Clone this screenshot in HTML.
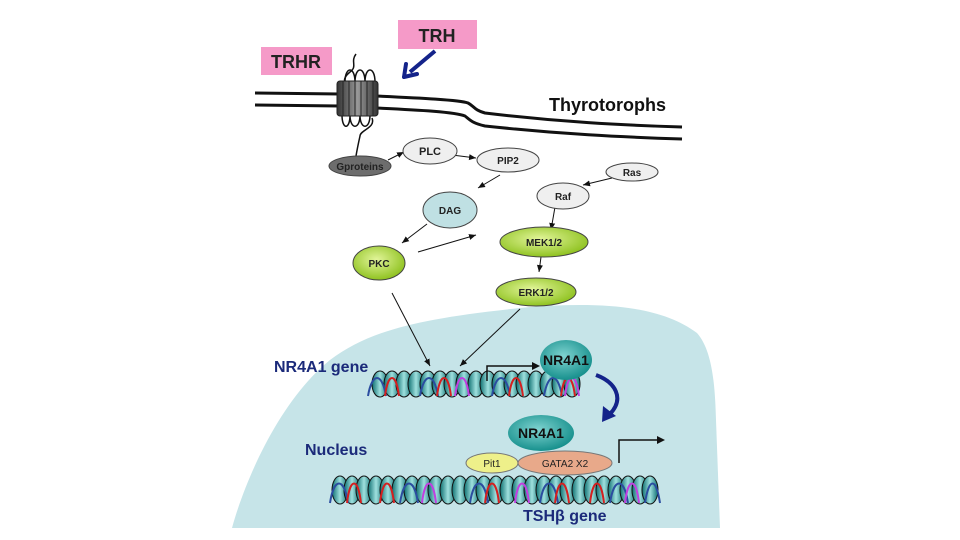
<!DOCTYPE html>
<html><head><meta charset="utf-8"><style>
html,body{margin:0;padding:0;background:#fff;}
svg{display:block;font-family:"Liberation Sans",sans-serif;}
</style></head><body>
<svg width="960" height="540" viewBox="0 0 960 540" xmlns="http://www.w3.org/2000/svg">
<defs>
<marker id="a" markerWidth="8" markerHeight="8" refX="7" refY="4" orient="auto" markerUnits="userSpaceOnUse"><path d="M0,1 L7,4 L0,7 Z" fill="#111"/></marker>
<linearGradient id="cyl" x1="0" y1="0" x2="1" y2="0"><stop offset="0" stop-color="#0d6f70"/><stop offset="0.5" stop-color="#9fe0de"/><stop offset="1" stop-color="#0d6f70"/></linearGradient>
<radialGradient id="tl" cx="0.45" cy="0.4" r="0.6"><stop offset="0" stop-color="#7fd3d0"/><stop offset="1" stop-color="#17908d"/></radialGradient>
<radialGradient id="gr" cx="0.45" cy="0.4" r="0.6"><stop offset="0" stop-color="#e2f59a"/><stop offset="1" stop-color="#8fc220"/></radialGradient>
<linearGradient id="rc" x1="0" y1="0" x2="1" y2="0"><stop offset="0" stop-color="#333"/><stop offset="0.5" stop-color="#999"/><stop offset="1" stop-color="#333"/></linearGradient>
</defs>
<!-- nucleus -->
<path d="M232,528 C245,480 280,400 330,360 C370,330 420,318 530,307 C600,302 660,305 697,333 C712,350 715,383 716,420 L720,528 Z" fill="#c6e4e8"/>
<!-- labels boxes -->
<rect x="261" y="47" width="71" height="28" fill="#f59ac8"/>
<text x="296" y="68" font-size="18" font-weight="bold" text-anchor="middle" fill="#222">TRHR</text>
<rect x="398" y="20" width="79" height="29" fill="#f59ac8"/>
<text x="437" y="42" font-size="18" font-weight="bold" text-anchor="middle" fill="#222">TRH</text>
<path d="M435,51 L410,72" stroke="#14238a" stroke-width="4" fill="none"/>
<path d="M404,77 L406,64 M404,77 L417,74" stroke="#14238a" stroke-width="4" fill="none" stroke-linecap="round"/>
<!-- membrane -->
<g stroke="#111" stroke-width="3" fill="none">
<path d="M255,93 L340,94 M376,96 C420,98 460,100 468,103 C474,106 474,110 485,113 C560,122 620,125 682,127"/>
<path d="M255,105 L340,106 M376,108 C420,110 455,112 465,116 C470,120 472,123 485,126 C560,134 620,137 682,139"/>
</g>
<!-- receptor -->
<g stroke="#111" stroke-width="1.5" fill="none">
<path d="M356,54 C350,62 358,66 350,72 C344,77 344,80 345,82"/>
<path d="M345,82 C345,66 355,66 355,82 C355,66 365,66 365,82 C365,66 375,66 375,82"/>
<path d="M342,115 C342,130 350,130 350,115 C350,130 360,130 360,115 C360,130 370,130 370,115"/>
<path d="M372,118 C376,128 360,130 360,136 C358,145 357,150 356,156"/>
</g>
<rect x="337" y="81" width="41" height="35" rx="3" fill="url(#rc)" stroke="#222"/>
<g stroke="#222" stroke-width="1"><path d="M343,81v35M349,81v35M355,81v35M361,81v35M367,81v35M373,81v35"/></g>
<text x="549" y="111" font-size="18" font-weight="bold" fill="#111">Thyrotorophs</text>
<!-- arrows -->
<g stroke="#111" stroke-width="1" fill="none" marker-end="url(#a)">
<path d="M388,160 L404,152"/><path d="M452,155 L476,158"/><path d="M500,175 L478,188"/>
<path d="M427,224 L402,243"/><path d="M418,252 L476,235"/><path d="M612,178 L583,185"/>
<path d="M555,207 L551,230"/><path d="M541,257 L539,272"/><path d="M392,293 L430,366"/><path d="M520,309 L460,366"/>
</g>
<!-- nodes -->
<g stroke="#444" stroke-width="1" font-weight="bold" text-anchor="middle">
<ellipse cx="360" cy="166" rx="31" ry="10" fill="#6d6d6d"/>
<ellipse cx="430" cy="151" rx="27" ry="13" fill="#efefef"/>
<ellipse cx="508" cy="160" rx="31" ry="12" fill="#efefef"/>
<ellipse cx="450" cy="210" rx="27" ry="18" fill="#bfe0e3"/>
<ellipse cx="379" cy="263" rx="26" ry="17" fill="url(#gr)"/>
<ellipse cx="632" cy="172" rx="26" ry="9" fill="#efefef"/>
<ellipse cx="563" cy="196" rx="26" ry="13" fill="#efefef"/>
<ellipse cx="544" cy="242" rx="44" ry="15" fill="url(#gr)"/>
<ellipse cx="536" cy="292" rx="40" ry="14" fill="url(#gr)"/>
</g>
<g font-weight="bold" text-anchor="middle" fill="#222">
<text x="360" y="170" font-size="10" fill="#222">Gproteins</text>
<text x="430" y="155" font-size="11">PLC</text>
<text x="508" y="164" font-size="10">PIP2</text>
<text x="450" y="214" font-size="10">DAG</text>
<text x="379" y="267" font-size="10">PKC</text>
<text x="632" y="176" font-size="10">Ras</text>
<text x="563" y="200" font-size="10">Raf</text>
<text x="544" y="246" font-size="10">MEK1/2</text>
<text x="536" y="296" font-size="10">ERK1/2</text>
</g>
<!-- DNA row1 -->
<g id="r1">
<g stroke="#111" stroke-width="1" fill="url(#cyl)">
<ellipse cx="380" cy="384" rx="8" ry="13"/><ellipse cx="392" cy="384" rx="8" ry="13"/><ellipse cx="404" cy="384" rx="8" ry="13"/>
<ellipse cx="416" cy="384" rx="8" ry="13"/><ellipse cx="428" cy="384" rx="8" ry="13"/><ellipse cx="440" cy="384" rx="8" ry="13"/>
<ellipse cx="452" cy="384" rx="8" ry="13"/><ellipse cx="464" cy="384" rx="8" ry="13"/><ellipse cx="476" cy="384" rx="8" ry="13"/>
<ellipse cx="488" cy="384" rx="8" ry="13"/><ellipse cx="500" cy="384" rx="8" ry="13"/><ellipse cx="512" cy="384" rx="8" ry="13"/>
<ellipse cx="524" cy="384" rx="8" ry="13"/><ellipse cx="536" cy="384" rx="8" ry="13"/><ellipse cx="548" cy="384" rx="8" ry="13"/>
<ellipse cx="560" cy="384" rx="8" ry="13"/><ellipse cx="572" cy="384" rx="8" ry="13"/>
</g>
<g fill="none" stroke-width="2">
<path d="M368,396 C372,372 382,372 386,396 M420,396 C424,372 434,372 438,396 M492,396 C496,372 506,372 510,396 M544,396 C548,372 558,372 562,396" stroke="#2b4da0"/>
<path d="M385,396 C388,372 396,372 399,396 M437,396 C440,372 448,372 451,396 M509,396 C512,372 520,372 523,396 M561,396 C564,372 572,372 575,396" stroke="#d42020"/>
<path d="M455,396 C458,372 466,372 469,396 M565,396 C568,372 576,372 579,396" stroke="#c040e0"/>
</g>
</g>
<!-- promoter arrow 1 -->
<path d="M487,381 V366 H534" stroke="#111" stroke-width="1.5" fill="none"/>
<path d="M540,366 L532,362 L532,370 Z" fill="#111"/>
<ellipse cx="566" cy="360" rx="26" ry="20" fill="url(#tl)"/>
<text x="566" y="365" font-size="14" font-weight="bold" text-anchor="middle" fill="#111">NR4A1</text>
<!-- curved arrow -->
<path d="M596,375 C615,382 625,398 610,414" stroke="#14238a" stroke-width="4" fill="none"/>
<path d="M602,422 L603,406 L616,416 Z" fill="#14238a"/>
<ellipse cx="541" cy="433" rx="33" ry="18" fill="url(#tl)"/>
<text x="541" y="438" font-size="14" font-weight="bold" text-anchor="middle" fill="#111">NR4A1</text>
<!-- DNA row2 -->
<g stroke="#111" stroke-width="1" fill="url(#cyl)">
<ellipse cx="340" cy="490" rx="8" ry="14"/><ellipse cx="352" cy="490" rx="8" ry="14"/><ellipse cx="364" cy="490" rx="8" ry="14"/>
<ellipse cx="376" cy="490" rx="8" ry="14"/><ellipse cx="388" cy="490" rx="8" ry="14"/><ellipse cx="400" cy="490" rx="8" ry="14"/>
<ellipse cx="412" cy="490" rx="8" ry="14"/><ellipse cx="424" cy="490" rx="8" ry="14"/><ellipse cx="436" cy="490" rx="8" ry="14"/>
<ellipse cx="448" cy="490" rx="8" ry="14"/><ellipse cx="460" cy="490" rx="8" ry="14"/><ellipse cx="472" cy="490" rx="8" ry="14"/>
<ellipse cx="484" cy="490" rx="8" ry="14"/><ellipse cx="496" cy="490" rx="8" ry="14"/><ellipse cx="508" cy="490" rx="8" ry="14"/>
<ellipse cx="520" cy="490" rx="8" ry="14"/><ellipse cx="532" cy="490" rx="8" ry="14"/><ellipse cx="544" cy="490" rx="8" ry="14"/>
<ellipse cx="556" cy="490" rx="8" ry="14"/><ellipse cx="568" cy="490" rx="8" ry="14"/><ellipse cx="580" cy="490" rx="8" ry="14"/>
<ellipse cx="592" cy="490" rx="8" ry="14"/><ellipse cx="604" cy="490" rx="8" ry="14"/><ellipse cx="616" cy="490" rx="8" ry="14"/>
<ellipse cx="628" cy="490" rx="8" ry="14"/><ellipse cx="640" cy="490" rx="8" ry="14"/><ellipse cx="650" cy="490" rx="8" ry="14"/>
</g>
<g fill="none" stroke-width="2">
<path d="M330,503 C334,477 344,477 348,503 M400,503 C404,477 414,477 418,503 M470,503 C474,477 484,477 488,503 M540,503 C544,477 554,477 558,503 M610,503 C614,477 624,477 628,503 M645,503 C649,477 656,477 660,503" stroke="#2b4da0"/>
<path d="M347,503 C350,477 358,477 361,503 M380,503 C383,477 391,477 394,503 M485,503 C488,477 496,477 499,503 M555,503 C558,477 566,477 569,503 M590,503 C593,477 601,477 604,503" stroke="#d42020"/>
<path d="M422,503 C425,477 433,477 436,503 M515,503 C518,477 526,477 529,503 M625,503 C628,477 636,477 639,503" stroke="#c040e0"/>
</g>
<ellipse cx="492" cy="463" rx="26" ry="10" fill="#eef08a" stroke="#777"/>
<text x="492" y="467" font-size="10" text-anchor="middle" fill="#222">Pit1</text>
<ellipse cx="565" cy="463" rx="47" ry="12" fill="#e8a98a" stroke="#777"/>
<text x="565" y="467" font-size="10" text-anchor="middle" fill="#222">GATA2 X2</text>
<path d="M619,463 V440 H658" stroke="#111" stroke-width="1.5" fill="none"/>
<path d="M665,440 L657,436 L657,444 Z" fill="#111"/>
<g font-weight="bold" fill="#1b2a7a" font-size="16">
<text x="274" y="372">NR4A1 gene</text>
<text x="305" y="455">Nucleus</text>
<text x="523" y="521">TSHβ gene</text>
</g>
</svg>
</body></html>
